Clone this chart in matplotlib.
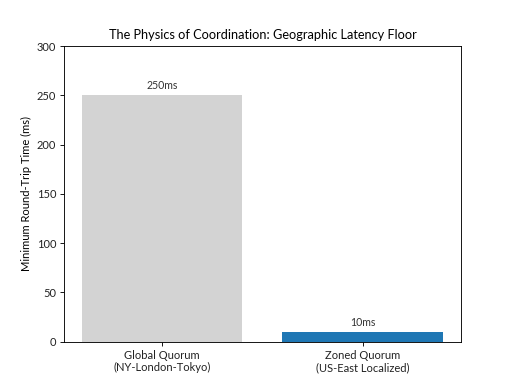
import matplotlib
matplotlib.use("Agg")
import matplotlib.pyplot as plt

plt.rcParams['font.family'] = ['Lato', 'DejaVu Sans']

categories = ["Global Quorum\n(NY-London-Tokyo)", "Zoned Quorum\n(US-East Localized)"]
latency_ms = [250, 10]
bar_labels = ["250ms", "10ms"]
colors = ["lightgray", "#1f77b4"]

fig, ax = plt.subplots(figsize=(6.4, 4.8), dpi=80)

bars = ax.bar(categories, latency_ms, color=colors)
for b, lab in zip(bars, bar_labels):
  ax.text(b.get_x() + b.get_width() / 2, b.get_height() + 4, lab,
          ha='center', va='bottom', fontsize=9.5, color='#333333')

ax.set_ylim(0, 300)
ax.tick_params(labelcolor='#222222')
ax.set_ylabel("Minimum Round-Trip Time (ms)", fontsize=10)
ax.set_title("The Physics of Coordination: Geographic Latency Floor", fontsize=11.5)

fig.savefig("out.png", dpi=80)
